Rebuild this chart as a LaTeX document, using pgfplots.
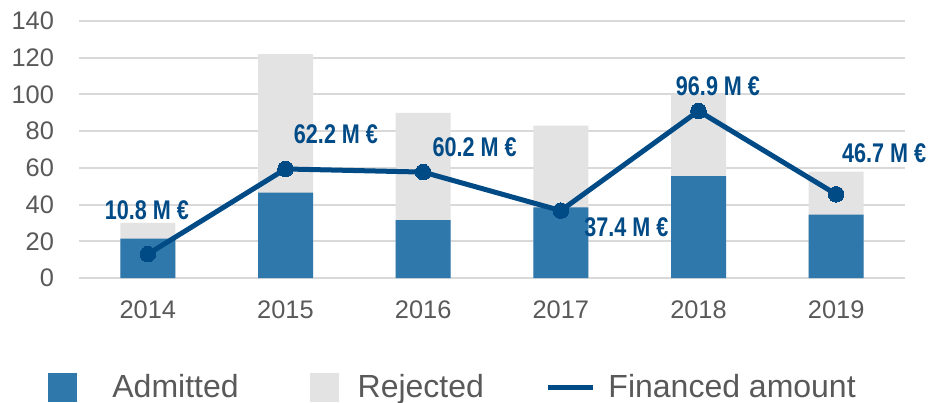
\documentclass[border=0pt]{standalone}
\usepackage{pgfplots}
\pgfplotsset{compat=1.18}
\usepackage{pgfplotstable}
\usepackage{fontspec}
\setmainfont{Liberation Sans}
\newfontfamily\nb[FakeStretch=0.8]{Liberation Sans}
\definecolor{adm}{HTML}{2E78AB}
\definecolor{rej}{HTML}{E3E3E3}
\definecolor{fin}{HTML}{004A86}
\definecolor{txt}{HTML}{595959}
\definecolor{gridc}{HTML}{D9D9D9}

\pgfplotstableread{
x year adm tot fin lab dx dy
0 2014 21.5 30 13.0 10.8 -0.5 22
1 2015 46.5 122 59.4 62.2 25.25 17.5
2 2016 31.5 90 57.7 60.2 25.75 12.5
3 2017 38.5 83 36.7 37.4 32.75 -8.5
4 2018 55.5 100 91.0 96.9 9.75 12.5
5 2019 34.5 58 45.6 46.7 24 20.5
}\data

\begin{document}
\begin{tikzpicture}
\path[use as bounding box] (-39.5pt,-62pt) rectangle (425.5pt,139pt);
\begin{axis}[
  at={(0,0)}, anchor=south west,
  scale only axis, width=413pt, height=128.5pt,
  xmin=-0.5, xmax=5.5, ymin=0, ymax=140,
  clip=false,
  axis line style={draw=none},
  tick style={draw=none},
  xtick={0,1,2,3,4,5},
  xticklabels={2014,2015,2016,2017,2018,2019},
  ytick={0,20,...,140},
  ymajorgrids,
  grid style={gridc, line width=1pt},
  tick label style={font=\fontsize{12.7}{14}\selectfont, text=txt},
  /pgf/number format/assume math mode=true,
  yticklabel style={xshift=-9pt},
  xticklabel style={yshift=-8pt},
  legend columns=3,
  legend style={at={(axis description cs:0,0)}, anchor=west,
    xshift=-15.5pt, yshift=-54.5pt, draw=none, fill=none,
    inner sep=0pt, outer sep=0pt,
    font=\fontsize{16}{18}\selectfont, text=txt,
    nodes={inner sep=0pt},
    /tikz/every even column/.append style={column sep=31pt}},
]
\addplot[ybar, bar width=27.5pt, bar shift=0pt, fill=rej, draw=none, forget plot]
  table[x=x, y=tot]{\data};
\addplot[ybar, bar width=27.5pt, bar shift=0pt, fill=adm, draw=none, forget plot]
  table[x=x, y=adm]{\data};
\addplot[fin, line width=2.5pt, mark=*, mark size=3.9pt,
  mark options={fill=fin, draw=fin, line width=0pt}, forget plot,
  point meta=explicit symbolic,
  visualization depends on={\thisrow{dx} \as \dx},
  visualization depends on={\thisrow{dy} \as \dy},
  nodes near coords={\pgfplotspointmeta\ M €},
  nodes near coords style={anchor=center, xshift=\dx pt, yshift=\dy pt,
    font=\nb\bfseries\fontsize{13.5}{15}\selectfont, text=fin}]
  table[x=x, y=fin, meta=lab]{\data};
\addlegendimage{legend image code/.code={\path[draw=none,fill=none] (0pt,0pt) -- (32pt,0pt); \fill[adm] (0pt,-7pt) rectangle (14pt,7pt);}}
\addlegendentry{Admitted}
\addlegendimage{legend image code/.code={\path[draw=none,fill=none] (-5pt,0pt) -- (23.5pt,0pt); \fill[rej] (0pt,-7pt) rectangle (14pt,7pt);}}
\addlegendentry{Rejected}
\addlegendimage{legend image code/.code={\path[draw=none,fill=none] (0pt,0pt) -- (30pt,0pt); \draw[fin, line width=2.5pt] (0pt,0pt) -- (22.5pt,0pt);}}
\addlegendentry{Financed amount}
\end{axis}
\end{tikzpicture}
\end{document}
